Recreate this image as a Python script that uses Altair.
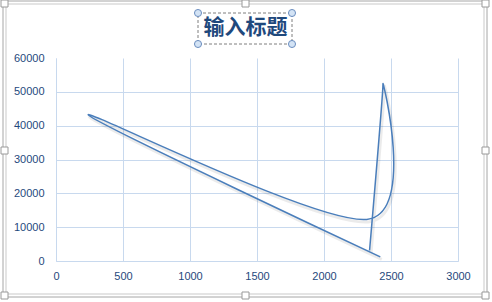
import altair as alt
import pandas as pd

# Series (drawn in this order, smoothed)
x_vals = [2420, 240, 2320, 2440, 2340]
y_vals = [1200, 43200, 12300, 52400, 3100]
title_text = "输入标题"

x_ticks = [0, 500, 1000, 1500, 2000, 2500, 3000]
y_ticks = [0, 10000, 20000, 30000, 40000, 50000, 60000]

df = pd.DataFrame({"x": x_vals, "y": y_vals, "i": list(range(len(x_vals)))})

W, H = 402, 203
PAD_L, PAD_T = 56, 58
NAVY = "#1f497d"
GRID = "#c8d9ee"
SERIES = "#4a7ebb"

x_enc = alt.X(
    "x:Q",
    scale=alt.Scale(domain=[0, 3000], nice=False),
    axis=alt.Axis(
        values=x_ticks, format="d", title=None, grid=True, gridColor=GRID, gridWidth=1,
        domainColor=GRID, ticks=False, tickSize=0, labelPadding=9,
        labelFont="Liberation Sans", labelFontSize=11, labelColor=NAVY,
        labelFlush=False, labelOverlap=False,
    ),
)
y_enc = alt.Y(
    "y:Q",
    scale=alt.Scale(domain=[0, 60000], nice=False),
    axis=alt.Axis(
        values=y_ticks, format="d", title=None, grid=True, gridColor=GRID, gridWidth=1,
        gridOpacity={"condition": {"test": "datum.value >= 60000", "value": 0}, "value": 1},
        domainColor=GRID, ticks=False, tickSize=0, labelPadding=12,
        labelFont="Liberation Sans", labelFontSize=11, labelColor=NAVY,
        labelOverlap=False,
    ),
)

shadow = alt.Chart(df).mark_line(
    interpolate="cardinal", color="#000000", opacity=0.08, strokeWidth=3,
    xOffset=1.5, yOffset=2.5,
).encode(x=x_enc, y=y_enc, order="i:Q")

series = alt.Chart(df).mark_line(
    interpolate="cardinal", color=SERIES, strokeWidth=1.5,
).encode(x=x_enc, y=y_enc, order="i:Q")

one = alt.Data(values=[{"k": 0}])


def box(x0, y0, x1, y1, **kw):
    """Rectangle in page pixels, shifted into plot coordinates."""
    return alt.Chart(one).mark_rect(**kw).encode(
        x=alt.value(x0 - PAD_L), x2=alt.value(x1 - PAD_L),
        y=alt.value(y0 - PAD_T), y2=alt.value(y1 - PAD_T),
    )


def dot(cx, cy, **kw):
    return alt.Chart(one).mark_point(shape="circle", filled=True, **kw).encode(
        x=alt.value(cx - PAD_L), y=alt.value(cy - PAD_T),
    )


# chart-area frame (double outline) and its sizing handles
frame = [
    box(3, 1, 487, 297, fill="white", fillOpacity=0, stroke="#a6a6a6", strokeWidth=1),
    box(6, 4, 484, 294, fill="white", fillOpacity=0, stroke="#c9c9c9", strokeWidth=1),
]
handles = []
for hx, hy in [(4, 3), (245, 3), (485, 3), (4, 150), (485, 150), (4, 295), (245, 295), (485, 295)]:
    handles.append(box(hx - 3, hy - 3, hx + 4, hy + 4, fill="white", stroke="#9a9a9a", strokeWidth=1))

# title with its dashed selection box and round handles
title_box = box(198, 13, 292, 44, fill="white", fillOpacity=0, stroke="#7f7f7f",
                strokeWidth=1, strokeDash=[3, 2])
title = alt.Chart(one).mark_text(
    text=title_text, font="Noto Sans CJK SC", fontSize=21, fontWeight="bold",
    color=NAVY, align="center", baseline="middle",
).encode(x=alt.value(245.5 - PAD_L), y=alt.value(28 - PAD_T))
title_dots = [
    dot(px, py, size=50, color="#d3e3f5", stroke="#6c8ebf", strokeWidth=1, opacity=1)
    for px, py in [(198, 13), (292, 13), (198, 44), (292, 44)]
]

chart = alt.layer(
    *frame, shadow, series, title_box, title, *title_dots, *handles,
).properties(
    width=W, height=H,
    autosize=alt.AutoSizeParams(type="none"),
    padding={"left": PAD_L, "top": PAD_T, "right": 492 - PAD_L - W, "bottom": 302 - PAD_T - H},
    background="white",
).configure_view(stroke=None)

chart.save("out.html", embed_options={"renderer": "svg", "actions": False})
